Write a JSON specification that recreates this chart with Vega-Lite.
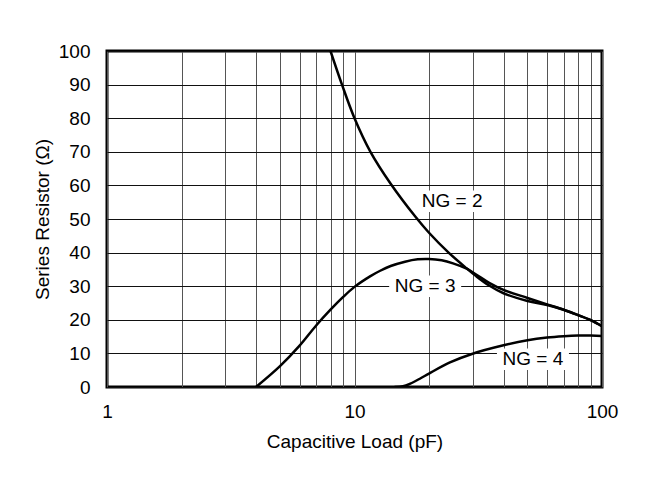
{
  "$schema": "https://vega.github.io/schema/vega-lite/v6.json",
  "width": 495,
  "height": 336,
  "autosize": {"type": "none"},
  "padding": {"left": 107, "top": 51, "right": 55, "bottom": 96},
  "background": "white",
  "config": {
    "font": "Liberation Sans",
    "view": {"stroke": "black", "strokeWidth": 3},
    "axis": {
      "labelFont": "Liberation Sans",
      "titleFont": "Liberation Sans",
      "labelFontSize": 19,
      "titleFontSize": 19,
      "labelColor": "black",
      "titleColor": "black",
      "titleFontWeight": "normal",
      "domain": false,
      "ticks": false,
      "tickSize": 0
    }
  },
  "datasets": {
    "curves": [
      {"cap": 8.0, "res": 100, "ng": "2"},
      {"cap": 8.9, "res": 90, "ng": "2"},
      {"cap": 10, "res": 80, "ng": "2"},
      {"cap": 11.6, "res": 70, "ng": "2"},
      {"cap": 14, "res": 60.5, "ng": "2"},
      {"cap": 17.7, "res": 50.5, "ng": "2"},
      {"cap": 20, "res": 45.9, "ng": "2"},
      {"cap": 24, "res": 40, "ng": "2"},
      {"cap": 28.4, "res": 35.3, "ng": "2"},
      {"cap": 31, "res": 33, "ng": "2"},
      {"cap": 35, "res": 30.2, "ng": "2"},
      {"cap": 40, "res": 27.9, "ng": "2"},
      {"cap": 50, "res": 25.6, "ng": "2"},
      {"cap": 60, "res": 24.4, "ng": "2"},
      {"cap": 70, "res": 23, "ng": "2"},
      {"cap": 80, "res": 21.4, "ng": "2"},
      {"cap": 90, "res": 19.9, "ng": "2"},
      {"cap": 100, "res": 18.1, "ng": "2"},
      {"cap": 4.0, "res": 0, "ng": "3"},
      {"cap": 5, "res": 6.2, "ng": "3"},
      {"cap": 6, "res": 12.3, "ng": "3"},
      {"cap": 7, "res": 18.3, "ng": "3"},
      {"cap": 8, "res": 23, "ng": "3"},
      {"cap": 9, "res": 26.8, "ng": "3"},
      {"cap": 10, "res": 29.8, "ng": "3"},
      {"cap": 11.6, "res": 33, "ng": "3"},
      {"cap": 12.7, "res": 34.6, "ng": "3"},
      {"cap": 14, "res": 36, "ng": "3"},
      {"cap": 16, "res": 37.3, "ng": "3"},
      {"cap": 18, "res": 38, "ng": "3"},
      {"cap": 20, "res": 38.1, "ng": "3"},
      {"cap": 22.5, "res": 37.7, "ng": "3"},
      {"cap": 25, "res": 36.8, "ng": "3"},
      {"cap": 28.4, "res": 35.2, "ng": "3"},
      {"cap": 31, "res": 33.5, "ng": "3"},
      {"cap": 35, "res": 31, "ng": "3"},
      {"cap": 40, "res": 28.9, "ng": "3"},
      {"cap": 50, "res": 26.5, "ng": "3"},
      {"cap": 60, "res": 24.6, "ng": "3"},
      {"cap": 70, "res": 23, "ng": "3"},
      {"cap": 80, "res": 21.4, "ng": "3"},
      {"cap": 90, "res": 19.9, "ng": "3"},
      {"cap": 100, "res": 18.1, "ng": "3"},
      {"cap": 14.5, "res": 0, "ng": "4"},
      {"cap": 15.7, "res": 0.2, "ng": "4"},
      {"cap": 16.8, "res": 1.0, "ng": "4"},
      {"cap": 18.5, "res": 2.6, "ng": "4"},
      {"cap": 20, "res": 4.0, "ng": "4"},
      {"cap": 24.3, "res": 7.3, "ng": "4"},
      {"cap": 30, "res": 9.9, "ng": "4"},
      {"cap": 40, "res": 12.4, "ng": "4"},
      {"cap": 50, "res": 13.9, "ng": "4"},
      {"cap": 60, "res": 14.7, "ng": "4"},
      {"cap": 70, "res": 15.1, "ng": "4"},
      {"cap": 80, "res": 15.3, "ng": "4"},
      {"cap": 90, "res": 15.3, "ng": "4"},
      {"cap": 100, "res": 15.2, "ng": "4"}
    ],
    "labels": [
      {"cap": 24.8, "res": 55.3, "text": "NG = 2"},
      {"cap": 19.3, "res": 30.0, "text": "NG = 3"},
      {"cap": 52.6, "res": 8.25, "text": "NG = 4"}
    ]
  },
  "encoding": {
    "x": {
      "field": "cap",
      "type": "quantitative",
      "scale": {"type": "log", "domain": [1, 100], "nice": false},
      "axis": {
        "title": "Capacitive Load (pF)",
        "values": [1, 2, 3, 4, 5, 6, 7, 8, 9, 10, 20, 30, 40, 50, 60, 70, 80, 90, 100],
        "labelExpr": "indexof([1, 10, 100], datum.value) >= 0 ? format(datum.value, 'd') : ''",
        "grid": true,
        "gridColor": "#555555",
        "gridWidth": 1,
        "gridOpacity": 1,
        "labelPadding": 15,
        "titlePadding": 11,
        "labelFlush": false,
        "labelOverlap": false
      }
    },
    "y": {
      "field": "res",
      "type": "quantitative",
      "scale": {"domain": [0, 100], "nice": false, "zero": true},
      "axis": {
        "title": "Series Resistor (Ω)",
        "values": [0, 10, 20, 30, 40, 50, 60, 70, 80, 90, 100],
        "grid": true,
        "gridColor": "#111111",
        "gridWidth": 1,
        "gridOpacity": 1,
        "labelPadding": 17,
        "titlePadding": 6,
        "labelFlush": false,
        "labelOverlap": false
      }
    }
  },
  "layer": [
    {
      "mark": {"type": "rule", "color": "black", "strokeWidth": 2},
      "encoding": {"x": {"datum": 10}, "y": null}
    },
    {
      "data": {"name": "labels"},
      "mark": {
        "type": "point",
        "shape": "M-1,-0.3L1,-0.3L1,0.3L-1,0.3Z",
        "size": 5184,
        "filled": true,
        "color": "white",
        "opacity": 1,
        "strokeWidth": 0
      }
    },
    {
      "data": {"name": "labels"},
      "mark": {
        "type": "text",
        "font": "Liberation Sans",
        "fontSize": 19,
        "color": "black",
        "align": "center",
        "baseline": "middle"
      },
      "encoding": {"text": {"field": "text", "type": "nominal"}}
    },
    {
      "data": {"name": "curves"},
      "mark": {
        "type": "line",
        "color": "black",
        "strokeWidth": 2.5,
        "interpolate": "catmull-rom",
        "clip": true
      },
      "encoding": {"detail": {"field": "ng", "type": "nominal"}}
    }
  ]
}
